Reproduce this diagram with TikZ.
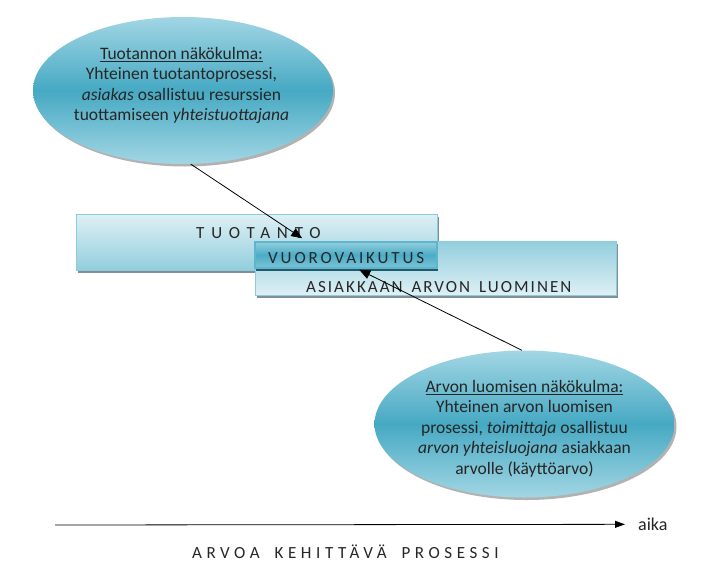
\documentclass[tikz,border=0pt]{standalone}
\usepackage{fontspec}
\setmainfont{Carlito}
\usetikzlibrary{shapes.geometric,shadows,arrows.meta,calc}
\definecolor{txt}{HTML}{262626}
\definecolor{elltop}{HTML}{A2D6E4}
\definecolor{ellmid}{HTML}{46A9C3}
\definecolor{boxlight}{HTML}{DFF0F5}
\definecolor{boxdark}{HTML}{92CEDD}
\definecolor{boxedge}{HTML}{8ECBDB}
\definecolor{vuomid}{HTML}{4BACC6}
\definecolor{vuoedge}{HTML}{5DB6CD}
\definecolor{vuoshadow}{HTML}{215A69}
\definecolor{barshadow}{HTML}{7F8E98}
\tikzset{
  ell/.style={ellipse, minimum width=300pt, minimum height=147pt, inner sep=0pt,
    top color=elltop, bottom color=elltop, middle color=ellmid, draw=none,
    drop shadow={shadow xshift=2pt, shadow yshift=-2.5pt, fill=black, opacity=0.3}},
  elltext/.style={align=center, text=txt, inner sep=0pt, font=\fontsize{17.5}{20.5}\selectfont},
  bartop/.style={rectangle, minimum width=361pt, minimum height=56pt, inner sep=0pt,
    top color=boxlight, bottom color=boxdark, draw=boxedge, line width=1pt,
    drop shadow={shadow xshift=2pt, shadow yshift=-3pt, fill=barshadow, opacity=1}},
  barbot/.style={rectangle, minimum width=361pt, minimum height=54pt, inner sep=0pt,
    top color=boxdark, bottom color=boxlight, draw=boxedge, line width=1pt,
    drop shadow={shadow xshift=2pt, shadow yshift=-3pt, fill=barshadow, opacity=1}},
  vuo/.style={rectangle, minimum width=182pt, minimum height=26pt, inner sep=0pt,
    top color=boxdark, bottom color=boxdark!70!vuomid, middle color=vuomid, draw=vuoedge, line width=1.5pt,
    drop shadow={shadow xshift=0.5pt, shadow yshift=-3pt, fill=vuoshadow, opacity=1}},
  lbl/.style={text=txt, inner sep=0pt, anchor=base west},
  conn/.style={draw=black, line width=0.8pt, -{Triangle[length=11pt,width=9pt]}},
}
\begin{document}
\begin{tikzpicture}[x=1pt,y=1pt]
\useasboundingbox[fill=white] (0,0) rectangle (711,-578);
% bars
\node[bartop] (tuot) at (256.5,-242) {};
\node[barbot] (asiak) at (435.5,-268) {};
\node[vuo] (vuoro) at (346,-255) {};
% bar labels
\node[lbl, font=\fontsize{17}{20}\selectfont\addfontfeature{LetterSpace=40}] (tuottxt) at (196,-238) {TUOTANTO};
\node[lbl, font=\fontsize{17}{20}\selectfont\addfontfeature{LetterSpace=17}] (vuotxt) at (268,-263) {VUOROVAIKUTUS};
\node[lbl, font=\fontsize{17}{20}\selectfont\addfontfeature{LetterSpace=12}] (asiaktxt) at (306,-292) {ASIAKKAAN\hspace{3pt} ARVON\hspace{3pt} LUOMINEN};
% ellipses
\node[ell] (e1) at (183,-90.5) {};
\node[elltext] (e1txt) at (181.5,-85.5) {\underline{Tuotannon näkökulma:}\\Yhteinen tuotantoprosessi,\\\textit{asiakas} osallistuu resurssien\\tuottamiseen \textit{yhteistuottajana}};
\node[ell] (e2) at (524.5,-424) {};
\node[elltext] (e2txt) at (524.5,-428.5) {\underline{Arvon luomisen näkökulma:}\\Yhteinen arvon luomisen\\prosessi, \textit{toimittaja} osallistuu\\\textit{arvon yhteisluojana} asiakkaan\\arvolle (käyttöarvo)};
% connectors
\draw[conn] (e1.-84.6) -- ($(vuoro.north west)+(48,3)$);
\draw[conn] (e2.92) -- ($(vuoro.south west)+(105,-1)$);
% timeline
\coordinate (t0) at (55,-525);
\node[lbl, font=\fontsize{18}{20}\selectfont] (aika) at (638,-530.5) {aika};
\draw[line width=0.8pt, -{Triangle[length=10pt,width=7pt]}] (t0) -- ($(aika.west)+(-13,0)$ |- t0);
\node[lbl, font=\fontsize{17}{20}\selectfont\addfontfeature{LetterSpace=27}] (proc) at (192,-558) {ARVOA\hspace{6.5pt} KEHITTÄVÄ\hspace{6.5pt} PROSESSI};
\end{tikzpicture}
\end{document}
